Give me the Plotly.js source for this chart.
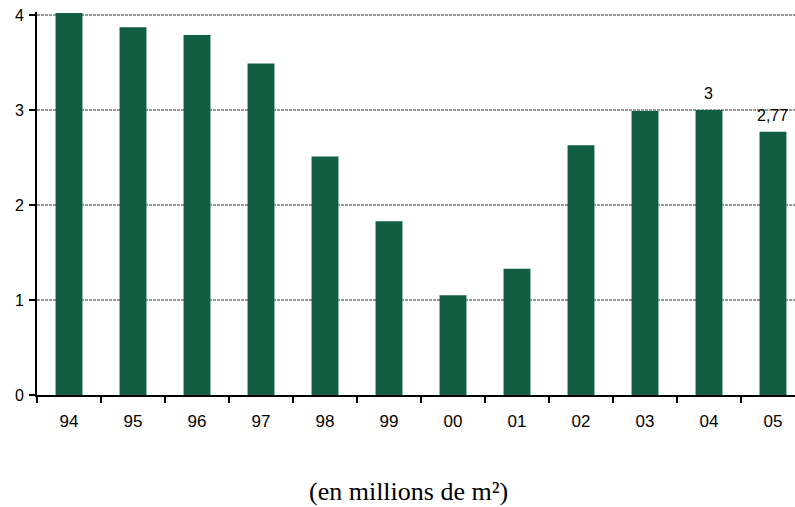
<!DOCTYPE html>
<html>
<head>
<meta charset="utf-8">
<script src="https://cdn.plot.ly/plotly-3.0.1.min.js"></script>
<style>html,body{margin:0;padding:0;background:#fff}#chart{width:795px;height:507px}</style>
</head>
<body>
<div id="chart"></div>
<script>
const years = ['94','95','96','97','98','99','00','01','02','03','04','05'];
const values = [4.02, 3.87, 3.79, 3.49, 2.51, 1.83, 1.05, 1.33, 2.63, 2.99, 3.0, 2.77];
const labels = ['', '', '', '', '', '', '', '', '', '', '3', '2,77'];
const yTicks = [0, 1, 2, 3, 4];

const trace = {
  type: 'bar',
  x: years,
  y: values,
  width: 0.42,
  marker: {color: '#115E43', line: {width: 0}},
  hoverinfo: 'skip'
};

const annotations = [];
labels.forEach((t, i) => {
  if (t) annotations.push({
    x: i, y: values[i], xref: 'x', yref: 'y',
    text: t, showarrow: false, yanchor: 'bottom', yshift: 6,
    font: {family: 'Liberation Sans, Arial', size: 16, color: '#000'}
  });
});
annotations.push({
  x: 0.49, y: 0, xref: 'paper', yref: 'paper', yanchor: 'top', xanchor: 'center',
  yshift: -80, showarrow: false, text: '(en millions de m²)',
  font: {family: 'Liberation Serif, serif', size: 26, color: '#000'}
});

const layout = {
  width: 795, height: 507,
  margin: {l: 37, r: 0, t: 12, b: 112},
  paper_bgcolor: '#fff', plot_bgcolor: '#fff',
  showlegend: false,
  font: {family: 'Liberation Sans, Arial', size: 16, color: '#000'},
  annotations: annotations,
  xaxis: {
    type: 'category',
    range: [-0.5, 11.344],
    tickson: 'boundaries',
    ticks: 'outside', ticklen: 6, tickwidth: 1.5, tickcolor: '#000',
    showline: true, linecolor: '#000', linewidth: 2,
    showgrid: false, zeroline: false,
    ticklabelstandoff: 10,
    tickfont: {family: 'Liberation Sans, Arial', size: 17}
  },
  yaxis: {
    range: [0, 383 / 95],
    tickvals: yTicks,
    ticktext: yTicks.map(String),
    ticks: 'outside', ticklen: 6, tickwidth: 1.5, tickcolor: '#000',
    showline: true, linecolor: '#000', linewidth: 2,
    showgrid: true, gridcolor: '#999999', gridwidth: 1.2, griddash: '3px,1px',
    zeroline: false,
    ticklabelstandoff: 2,
    tickfont: {family: 'Liberation Sans, Arial', size: 16}
  }
};

Plotly.newPlot('chart', [trace], layout, {staticPlot: true, displayModeBar: false});
</script>
</body>
</html>
